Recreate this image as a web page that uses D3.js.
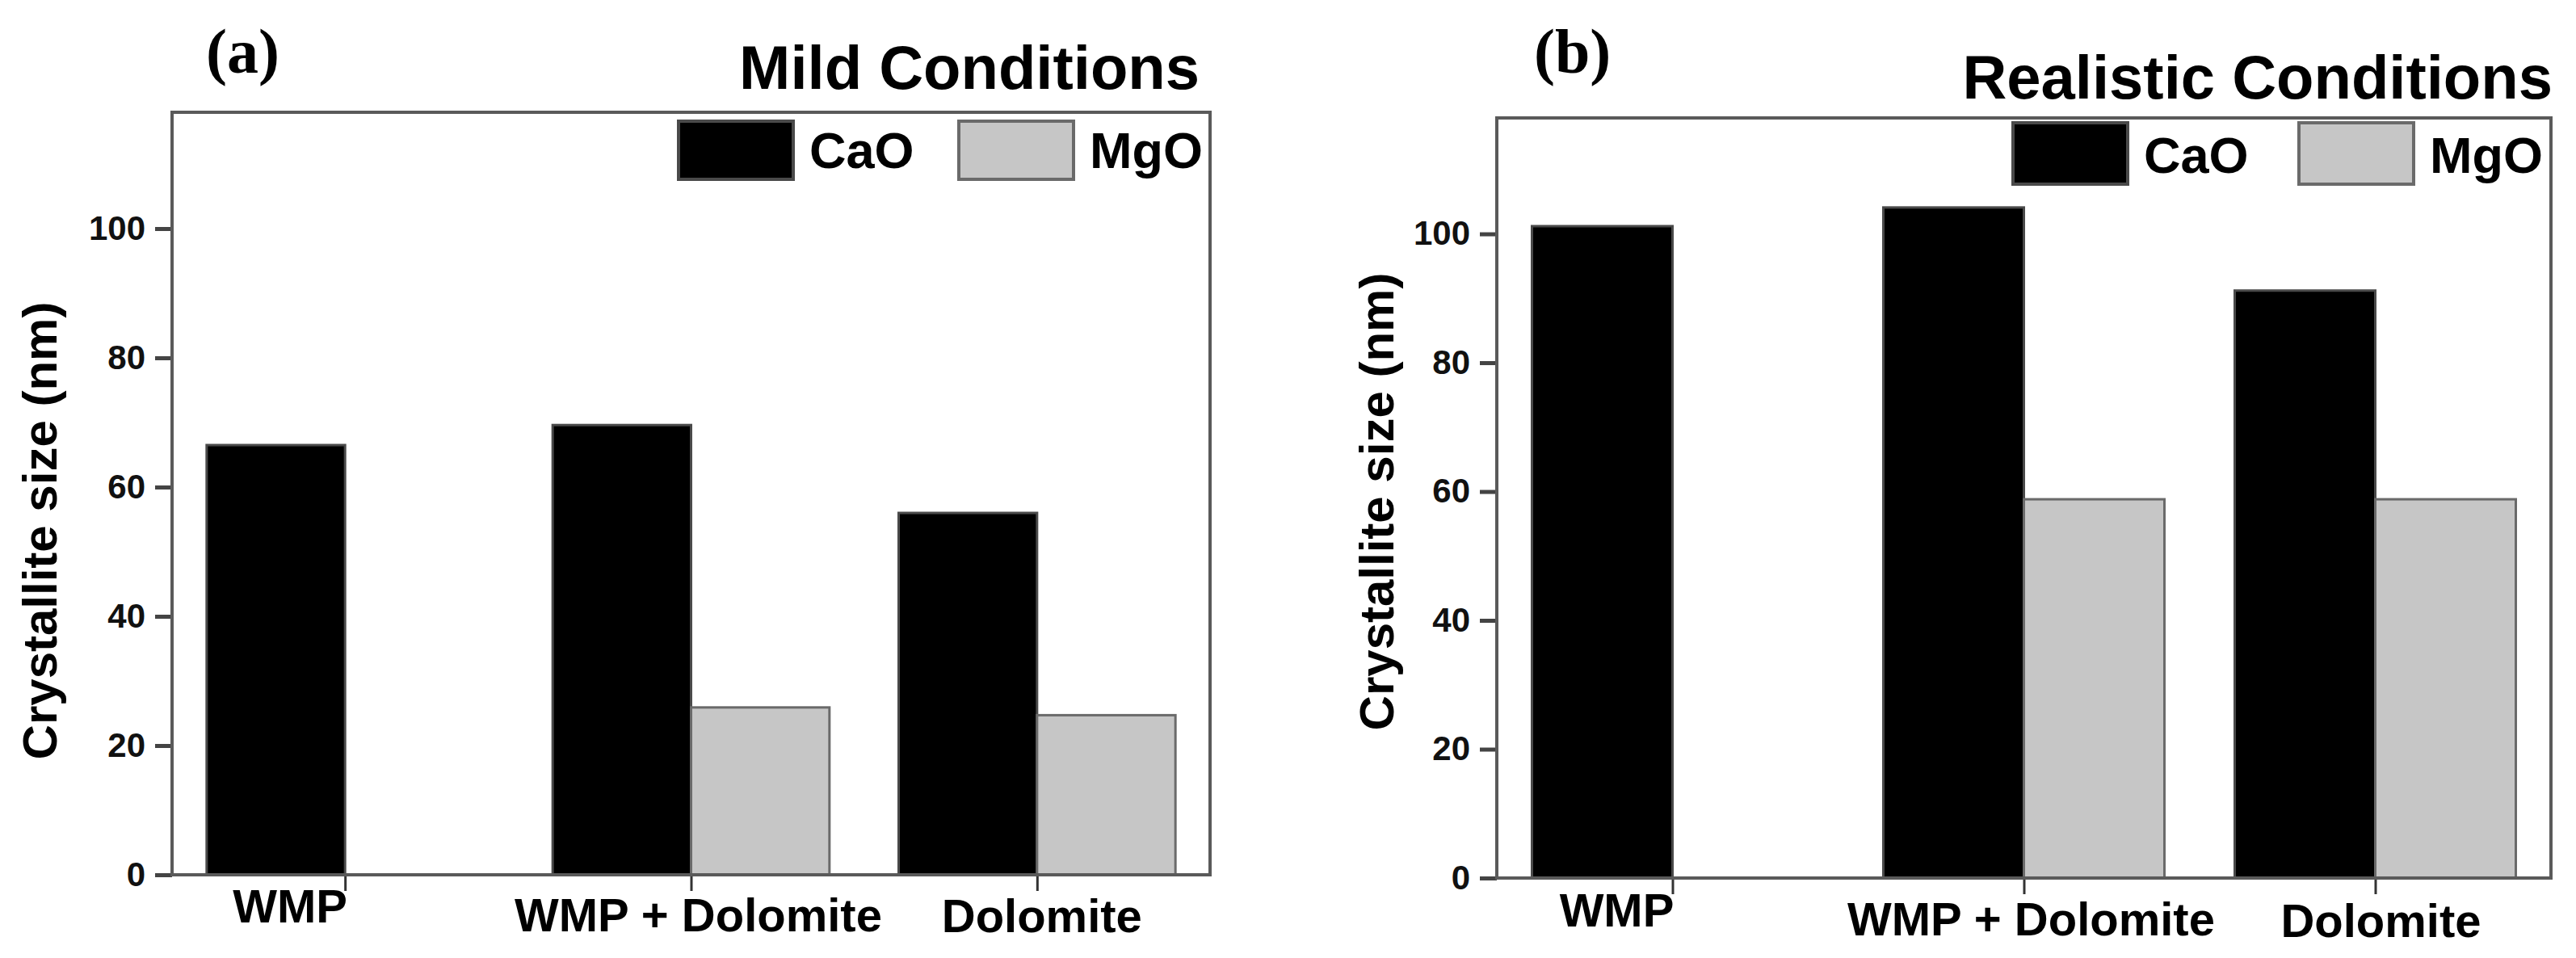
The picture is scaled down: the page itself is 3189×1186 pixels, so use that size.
<!DOCTYPE html>
<html>
<head>
<meta charset="utf-8">
<script src="https://cdn.jsdelivr.net/npm/d3@7"></script>
<style>
  html, body { margin: 0; padding: 0; background: #fff; }
  svg text { font-family: "Liberation Sans", Arial, sans-serif; font-weight: bold; }
</style>
</head>
<body>
<svg id="chart" width="3189" height="1186"></svg>
<script>
const categories = ["WMP", "WMP + Dolomite", "Dolomite"];
const seriesNames = ["CaO", "MgO"];
const mildCaO = [66.5, 69.6, 56.0];
const mildMgO = [null, 25.9, 24.7];
const realCaO = [101.2, 104.1, 91.2];
const realMgO = [null, 58.8, 58.8];
const yTicks = [0, 20, 40, 60, 80, 100];

const colors = { CaO: "#000000", MgO: "#c6c6c6" };
const strokes = { CaO: "#4a4a4a", MgO: "#6a6a6a" };

const svg = d3.select("#chart");

function drawPanel(p) {
  const g = svg.append("g");
  const x = d3.scaleLinear().domain([0.5, 3.5]).range([p.left, p.right]);
  const y = d3.scaleLinear().domain([0, 118]).range([p.bottom, p.top]);
  const band = x(2) - x(1);
  const bw = band * 0.40;

  // bars
  const rows = categories.map((c, i) => ({ i: i + 1, c, CaO: p.cao[i], MgO: p.mgo[i] }));
  seriesNames.forEach((s, k) => {
    g.selectAll(".bar-" + s)
      .data(rows.filter(d => d[s] != null))
      .join("rect")
      .attr("x", d => k === 0 ? x(d.i) - bw : x(d.i))
      .attr("y", d => y(d[s]))
      .attr("width", bw)
      .attr("height", d => y(0) - y(d[s]))
      .attr("fill", colors[s])
      .attr("stroke", strokes[s])
      .attr("stroke-width", 3);
  });

  // y axis
  const ya = g.append("g")
    .attr("transform", `translate(${p.left},0)`)
    .call(d3.axisLeft(y).tickValues(yTicks).tickSize(21).tickPadding(12));
  ya.select(".domain").remove();
  ya.selectAll(".tick line").attr("stroke", "#444").attr("stroke-width", 5);
  ya.selectAll(".tick text").attr("font-size", 42).attr("fill", "#111");

  // x axis (ticks only)
  const xa = g.append("g")
    .attr("transform", `translate(0,${p.bottom})`)
    .call(d3.axisBottom(x).tickValues([1, 2, 3]).tickFormat("").tickSize(20));
  xa.select(".domain").remove();
  xa.selectAll(".tick line").attr("stroke", "#333").attr("stroke-width", 3);

  // category labels
  g.selectAll(".cat")
    .data(categories)
    .join("text")
    .attr("x", (d, i) => x(i + 1) + p.labelDx[i])
    .attr("y", (d, i) => p.labelY[i])
    .attr("text-anchor", "middle")
    .attr("font-size", 58)
    .attr("fill", "#000")
    .text(d => d);

  // frame
  g.append("rect")
    .attr("x", p.left).attr("y", p.top)
    .attr("width", p.right - p.left).attr("height", p.bottom - p.top)
    .attr("fill", "none").attr("stroke", "#5a5a5a").attr("stroke-width", 4);

  // y title
  g.append("text")
    .attr("transform", `translate(${p.yTitleX},${p.yTitleY}) rotate(-90)`)
    .attr("text-anchor", "middle")
    .attr("font-size", 60)
    .text("Crystallite size (nm)");

  // panel letter
  g.append("text")
    .attr("x", p.letterX).attr("y", 90)
    .attr("font-size", 78)
    .style("font-family", "'Liberation Serif', 'Times New Roman', serif")
    .text(p.letter);

  // condition title
  g.append("text")
    .attr("x", p.titleRight).attr("y", p.titleY)
    .attr("text-anchor", "end")
    .attr("font-size", 76)
    .text(p.title);

  // legend
  seriesNames.forEach((s, k) => {
    g.append("rect")
      .attr("x", p.legX[k]).attr("y", p.legTop)
      .attr("width", 142).attr("height", p.legH)
      .attr("fill", colors[s])
      .attr("stroke", strokes[s]).attr("stroke-width", 4);
    g.append("text")
      .attr("x", p.legX[k] + 162).attr("y", p.legTop + p.legH - 14)
      .attr("font-size", 63)
      .text(s);
  });
}

drawPanel({
  left: 213, right: 1498, top: 139, bottom: 1083,
  cao: mildCaO, mgo: mildMgO,
  labelDx: [-68, 9, 6], labelY: [1142, 1153, 1154],
  yTitleX: 70, yTitleY: 657,
  letter: "(a)", letterX: 255,
  title: "Mild Conditions", titleRight: 1485, titleY: 110,
  legX: [840, 1187], legTop: 150, legH: 72
});

drawPanel({
  left: 1853, right: 3158, top: 146, bottom: 1087,
  cao: realCaO, mgo: realMgO,
  labelDx: [-69, 9, 7], labelY: [1147, 1158, 1160],
  yTitleX: 1725, yTitleY: 621,
  letter: "(b)", letterX: 1899,
  title: "Realistic Conditions", titleRight: 3160, titleY: 122,
  legX: [2492, 2846], legTop: 152, legH: 76
});
</script>
</body>
</html>
